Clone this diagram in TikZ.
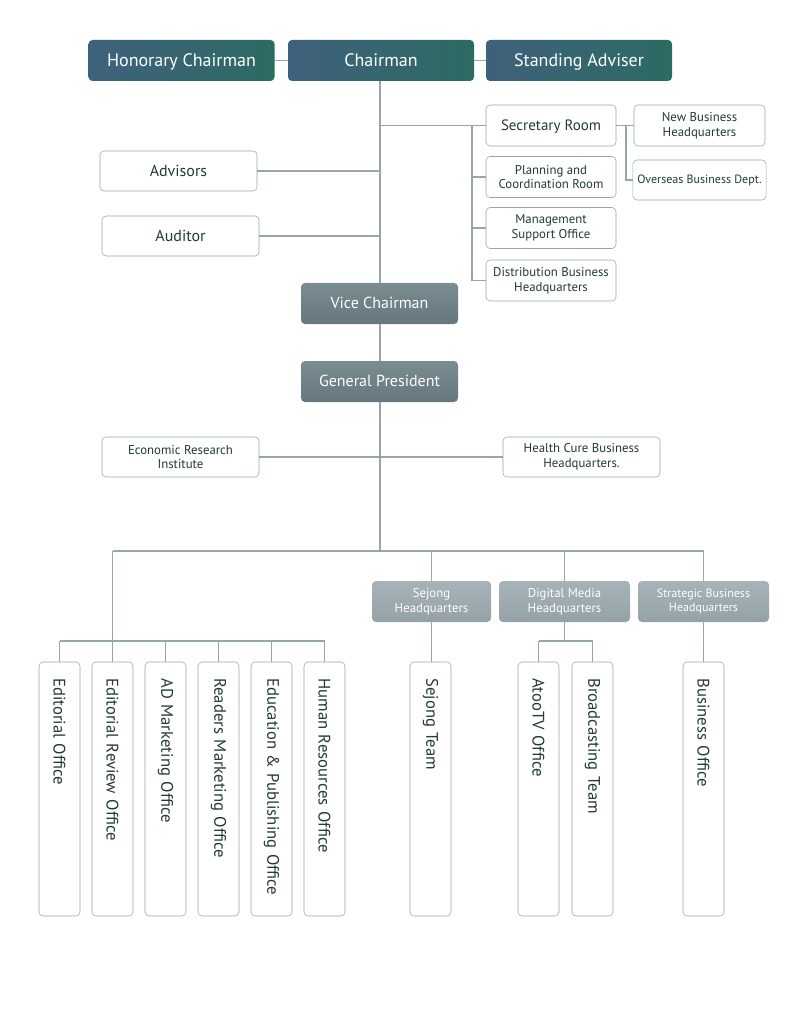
\documentclass[tikz,border=0pt]{standalone}
\usepackage{fontspec}
\setmainfont{PT Sans}
\usepackage{tikz}
\usetikzlibrary{calc,positioning}
\definecolor{topA}{HTML}{3F617C}
\definecolor{topB}{HTML}{2C6B62}
\definecolor{vcTop}{HTML}{7C8C93}
\definecolor{vcBot}{HTML}{66767E}
\definecolor{hqTop}{HTML}{A7B3B8}
\definecolor{hqBot}{HTML}{94A2A8}
\definecolor{frame}{HTML}{97A5AD}
\definecolor{ink}{HTML}{24393A}
\tikzset{
	link/.style={draw=frame,line width=0.8pt},
	topbox/.style={rounded corners=3pt,left color=topA,right color=topB,text=white,minimum width=139.5pt,minimum height=30.75pt,text height=11pt,text depth=2pt,font=\fontsize{13.5}{15}\selectfont},
	vcbox/.style={rounded corners=3pt,top color=vcTop,bottom color=vcBot,text=white,minimum width=117.75pt,minimum height=30.75pt,text height=10pt,text depth=2pt,font=\fontsize{12}{14}\selectfont},
	hqbox/.style={rounded corners=3pt,top color=hqTop,bottom color=hqBot,text=white,minimum height=30.75pt,align=center,font=\fontsize{9.6}{11}\selectfont},
	plainbox/.style={rounded corners=3pt,draw=frame,fill=white,text=ink,minimum height=30.75pt,align=center,font=\fontsize{9.6}{11}\selectfont},
	tallbox/.style={rounded corners=3pt,draw=frame,fill=white,text=ink,rotate=-90,minimum height=30.75pt,text width=166pt,inner xsep=12.25pt,align=left,font=\fontsize{12.5}{14}\selectfont}
}
\begin{document}
\begin{tikzpicture}[x=0.75pt,y=-0.75pt]
	\useasboundingbox (0,0) rectangle (800,1023);
	\node[topbox] (hon) at (181.5,60.5) {Honorary Chairman};
	\node[topbox] (chair) at (381,60.5) {Chairman};
	\node[topbox] (stand) at (579,60.5) {Standing Adviser};
	\node[plainbox,minimum width=97.5pt,text height=9pt,text depth=2pt,font=\fontsize{11.25}{13}\selectfont] (sec) at (551,125.5) {Secretary Room};
	\node[plainbox,minimum width=97.5pt] (plan) at (551,177) {Planning and\\Coordination Room};
	\node[plainbox,minimum width=97.5pt] (mgmt) at (551,228) {Management\\Support Office};
	\node[plainbox,minimum width=97.5pt] (dist) at (551,280.5) {Distribution Business\\Headquarters};
	\node[plainbox,minimum width=98.25pt] (newbiz) at (699.5,125.5) {New Business\\Headquarters};
	\node[plainbox,minimum width=98.25pt,minimum height=30pt,font=\fontsize{9}{11}\selectfont] (overseas) at (699.5,180) {Overseas Business Dept.};
	\node[plainbox,minimum width=117.75pt,minimum height=30pt,text height=10pt,text depth=2pt,font=\fontsize{12}{14}\selectfont] (adv) at (178.5,171) {Advisors};
	\node[plainbox,minimum width=117.75pt,minimum height=30pt,text height=10pt,text depth=2pt,font=\fontsize{12}{14}\selectfont] (aud) at (180.5,236) {Auditor};
	\node[vcbox] (vice) at (379.5,303.5) {Vice Chairman};
	\node[vcbox] (gp) at (379.5,381.5) {General President};
	\node[plainbox,minimum width=117.75pt,minimum height=30pt] (econ) at (180.5,457) {Economic Research\\Institute};
	\node[plainbox,minimum width=117.75pt,minimum height=30pt] (health) at (581.5,457) {Health Cure Business\\Headquarters.};
	\node[hqbox,minimum width=89.25pt] (sejhq) at (431.5,601.5) {Sejong\\Headquarters};
	\node[hqbox,minimum width=98.25pt] (dmhq) at (564.5,601.5) {Digital Media\\Headquarters};
	\node[hqbox,minimum width=98.25pt,font=\fontsize{9}{10.5}\selectfont] (sbhq) at (703.5,601.5) {Strategic Business\\Headquarters};
	\node[tallbox] (ed) at (59.5,789) {Editorial Office};
	\node[tallbox] (edrev) at (112.5,789) {Editorial Review Office};
	\node[tallbox] (admk) at (165.5,789) {AD Marketing Office};
	\node[tallbox] (rdmk) at (218.5,789) {Readers Marketing Office};
	\node[tallbox] (edpub) at (271.5,789) {Education \& Publishing Office};
	\node[tallbox] (hr) at (324.5,789) {Human Resources Office};
	\node[tallbox] (sejteam) at (430.5,789) {Sejong Team};
	\node[tallbox] (atoo) at (538.5,789) {AtooTV Office};
	\node[tallbox] (bcast) at (592.5,789) {Broadcasting Team};
	\node[tallbox] (bizoff) at (703.5,789) {Business Office};
	\coordinate (trunk) at (380,0);
	\coordinate (rb) at (472,0);
	\coordinate (nb) at (626,0);
	\coordinate (lowbar) at (0,551);
	\coordinate (edbar) at (0,641);
	\draw[link] (hon.east) -- (chair.west);
	\draw[link] (chair.east) -- (stand.west);
	\draw[link] (chair.south -| trunk) -- (vice.north -| trunk);
	\draw[link] (sec.west -| trunk) -- (sec.west);
	\draw[link] (sec.west -| rb) |- (dist.west);
	\foreach \n in {plan,mgmt}
		\draw[link] (\n.west -| rb) -- (\n.west);
	\draw[link] (sec.east) -- (newbiz.west);
	\draw[link] (sec.east -| nb) |- (overseas.west);
	\draw[link] (adv.east) -- (adv.east -| trunk);
	\draw[link] (aud.east) -- (aud.east -| trunk);
	\draw[link] (vice.south -| trunk) -- (gp.north -| trunk);
	\draw[link] (gp.south -| trunk) -- (lowbar -| trunk);
	\draw[link] (econ.east) -- (health.west);
	\draw[link] (lowbar -| edrev.west) -- (lowbar -| sbhq.north);
	\draw[link] (lowbar -| edrev.west) -- (edrev.west);
	\foreach \n in {sejhq,dmhq,sbhq}
		\draw[link] (lowbar -| \n.north) -- (\n.north);
	\draw[link] (edbar -| ed.west) -- (edbar -| hr.west);
	\foreach \n in {ed,admk,rdmk,edpub,hr}
		\draw[link] (edbar -| \n.west) -- (\n.west);
	\draw[link] (sejhq.south) -- (sejhq.south |- sejteam.west);
	\draw[link] (dmhq.south) -- (dmhq.south |- edbar);
	\draw[link] (edbar -| atoo.west) -- (edbar -| bcast.west);
	\foreach \n in {atoo,bcast}
		\draw[link] (edbar -| \n.west) -- (\n.west);
	\draw[link] (sbhq.south) -- (sbhq.south |- bizoff.west);
\end{tikzpicture}
\end{document}
